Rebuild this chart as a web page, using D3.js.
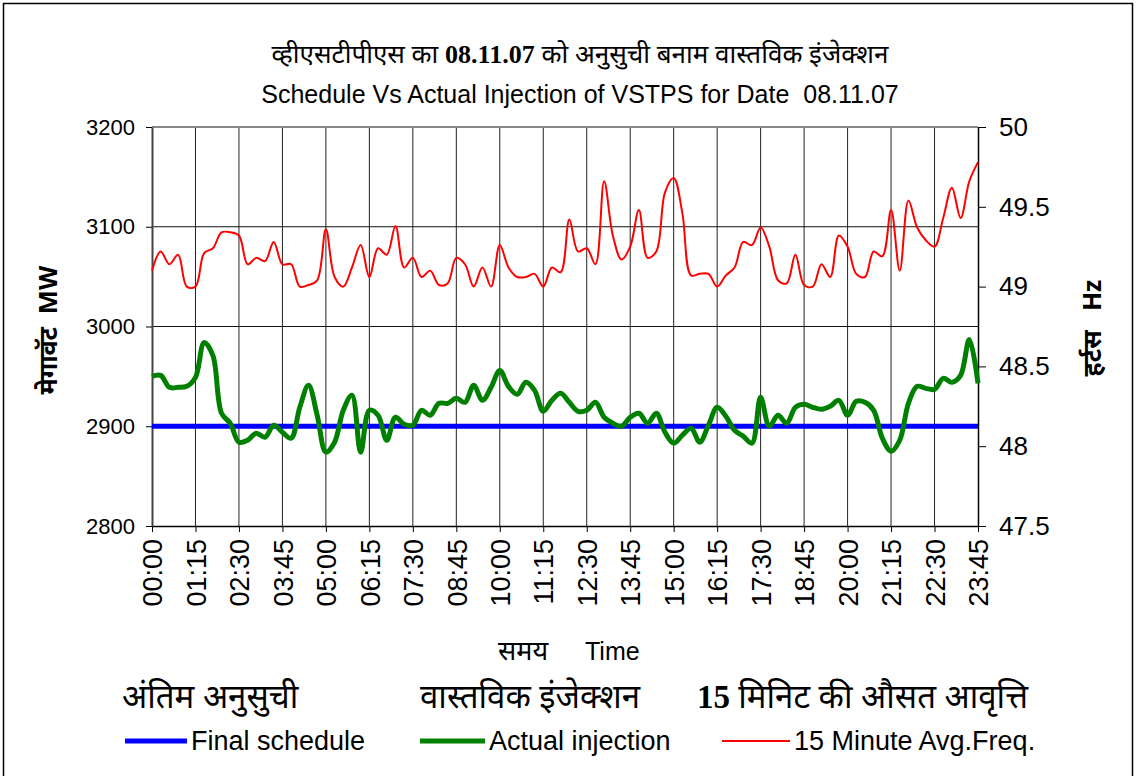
<!DOCTYPE html>
<html>
<head>
<meta charset="utf-8">
<script src="https://cdn.jsdelivr.net/npm/d3@7"></script>
<style>
  body { margin: 0; background: #fff; }
  svg text { font-family: Arial, "Liberation Sans", sans-serif; fill: #000; white-space: pre; }
  .hi { font-family: "Noto Sans Devanagari", "Lohit Devanagari", "Noto Serif Devanagari", "FreeSerif", serif; }
</style>
</head>
<body>
<div id="plot"></div>
<script>
// 15-minute blocks, 00:00 .. 23:45
var times = d3.range(96).map(function(i) {
  var h = Math.floor(i / 4), m = (i % 4) * 15;
  return (h < 10 ? "0" : "") + h + ":" + (m < 10 ? "0" : "") + m;
});

var schedule = times.map(function() { return 2900; });

var actual = [
  2950, 2951, 2939, 2939, 2940, 2949, 2984, 2971, 2913, 2903,
  2884, 2886, 2893, 2889, 2901, 2894, 2888, 2919, 2941, 2911,
  2874, 2884, 2916, 2931, 2874, 2916, 2911, 2886, 2909, 2902,
  2901, 2916, 2911, 2923, 2923, 2928, 2924, 2941, 2926, 2939,
  2956, 2940, 2932, 2944, 2936, 2915, 2926, 2933, 2924, 2915,
  2916, 2924, 2909, 2903, 2900, 2909, 2913, 2903, 2913, 2894,
  2883, 2891, 2898, 2884, 2901, 2919, 2910, 2896, 2890, 2883,
  2929, 2900, 2911, 2903, 2919, 2922, 2919, 2917, 2920, 2926,
  2911, 2925, 2924, 2916, 2888, 2875, 2886, 2923, 2940, 2938,
  2937, 2948, 2944, 2951, 2987, 2943
];

var freq = [
  49.10, 49.22, 49.14, 49.20, 49.00, 49.00, 49.21, 49.24, 49.34, 49.34,
  49.32, 49.14, 49.18, 49.16, 49.28, 49.14, 49.14, 49.00, 49.01, 49.04,
  49.36, 49.06, 49.00, 49.12, 49.26, 49.06, 49.24, 49.20, 49.38, 49.12,
  49.18, 49.06, 49.10, 49.01, 49.02, 49.18, 49.14, 49.00, 49.12, 49.00,
  49.26, 49.12, 49.06, 49.06, 49.08, 49.00, 49.12, 49.09, 49.42, 49.22,
  49.24, 49.14, 49.66, 49.32, 49.17, 49.25, 49.48, 49.18, 49.22, 49.59,
  49.68, 49.46, 49.07, 49.08, 49.08, 49.00, 49.07, 49.12, 49.28, 49.26,
  49.37, 49.25, 49.04, 49.02, 49.20, 49.01, 49.00, 49.14, 49.06, 49.32,
  49.25, 49.08, 49.06, 49.22, 49.19, 49.48, 49.10, 49.54, 49.37, 49.29,
  49.25, 49.43, 49.62, 49.43, 49.66, 49.78
];

var mwTicks = [2800, 2900, 3000, 3100, 3200];
var hzTicks = [47.5, 48, 48.5, 49, 49.5, 50];

(function() {
  var W = 1136, H = 776;
  var pL = 152, pR = 978, pT = 127, pB = 526;

  var svg = d3.select("#plot").append("svg")
    .attr("width", W).attr("height", H);

  // outer frame
  svg.append("rect")
    .attr("x", 3.5).attr("y", 3.5)
    .attr("width", 1129).attr("height", 800)
    .attr("fill", "none").attr("stroke", "#000").attr("stroke-width", 1.5);

  var x = d3.scalePoint().domain(times).range([pL, pR]);
  var y = d3.scaleLinear().domain([2800, 3200]).range([pB, pT]);
  var y2 = d3.scaleLinear().domain([47.5, 50]).range([pB, pT]);

  var every5 = times.filter(function(d, i) { return i % 5 === 0; });

  // gridlines
  svg.append("g").selectAll("line")
    .data(every5.slice(1, -1))
    .enter().append("line")
    .attr("x1", function(d) { return x(d); }).attr("x2", function(d) { return x(d); })
    .attr("y1", pT).attr("y2", pB)
    .attr("stroke", "#222").attr("stroke-width", 1);

  svg.append("g").selectAll("line")
    .data(mwTicks.slice(1, -1))
    .enter().append("line")
    .attr("x1", pL).attr("x2", pR)
    .attr("y1", function(d) { return y(d); }).attr("y2", function(d) { return y(d); })
    .attr("stroke", "#111").attr("stroke-width", 1);

  // plot top border
  svg.append("line")
    .attr("x1", pL).attr("x2", pR).attr("y1", pT).attr("y2", pT)
    .attr("stroke", "#888").attr("stroke-width", 2);

  // axes
  var xAxis = svg.append("g")
    .attr("transform", "translate(0," + pB + ")")
    .call(d3.axisBottom(x).tickValues(every5).tickSize(6).tickSizeOuter(0));
  xAxis.selectAll("text")
    .attr("transform", "rotate(-90)")
    .attr("x", -13).attr("y", 0).attr("dy", "0.36em")
    .style("text-anchor", "end")
    .style("font-size", "27px");

  var yAxis = svg.append("g")
    .attr("transform", "translate(" + pL + ",0)")
    .call(d3.axisLeft(y).tickValues(mwTicks).tickSize(6).tickPadding(11).tickSizeOuter(0)
      .tickFormat(d3.format("d")));
  yAxis.selectAll("text").style("font-size", "22px");

  var y2Axis = svg.append("g")
    .attr("transform", "translate(" + pR + ",0)")
    .call(d3.axisRight(y2).tickValues(hzTicks).tickSize(8).tickPadding(13).tickSizeOuter(0)
      .tickFormat(d3.format("")));
  y2Axis.selectAll("text").style("font-size", "26px");

  [xAxis, yAxis, y2Axis].forEach(function(g) {
    g.select(".domain").attr("stroke", "#000").attr("stroke-width", 1.5);
    g.selectAll(".tick line").attr("stroke", "#000");
  });
  yAxis.select(".domain").attr("stroke", "#444").attr("stroke-width", 2);

  // series
  var curve = d3.curveCatmullRom.alpha(0.5);

  svg.append("path")
    .datum(schedule)
    .attr("fill", "none").attr("stroke", "#0000ff").attr("stroke-width", 5)
    .attr("d", d3.line()
      .x(function(d, i) { return x(times[i]); })
      .y(function(d) { return y(d); }));

  svg.append("path")
    .datum(actual)
    .attr("fill", "none").attr("stroke", "#008000").attr("stroke-width", 5)
    .attr("stroke-linejoin", "round")
    .attr("d", d3.line().curve(curve)
      .x(function(d, i) { return x(times[i]); })
      .y(function(d) { return y(d); }));

  svg.append("path")
    .datum(freq)
    .attr("fill", "none").attr("stroke", "#ff0000").attr("stroke-width", 2)
    .attr("stroke-linejoin", "round")
    .attr("d", d3.line().curve(curve)
      .x(function(d, i) { return x(times[i]); })
      .y(function(d) { return y2(d); }));

  // titles
  var t1 = svg.append("text").attr("class", "hi")
    .attr("x", 580).attr("y", 63).attr("text-anchor", "middle")
    .style("font-size", "26px");
  t1.append("tspan").text("व्हीएसटीपीएस का ");
  t1.append("tspan").style("font-family", "'Liberation Serif', 'DejaVu Serif', serif")
    .style("font-weight", "bold").text("08.11.07");
  t1.append("tspan").text(" को अनुसुची बनाम वास्तविक इंजेक्शन");

  svg.append("text")
    .attr("x", 580).attr("y", 103).attr("text-anchor", "middle")
    .style("font-size", "25px")
    .text("Schedule Vs Actual Injection of VSTPS for Date  08.11.07");

  // axis titles
  svg.append("text").attr("class", "hi")
    .attr("transform", "translate(57,330) rotate(-90)")
    .attr("text-anchor", "middle")
    .style("font-size", "25px").style("font-weight", "bold")
    .text("मेगावॅट  MW");

  svg.append("text").attr("class", "hi")
    .attr("transform", "translate(1101,328) rotate(-90)")
    .attr("text-anchor", "middle")
    .style("font-size", "25px").style("font-weight", "bold")
    .text("हर्टस   Hz");

  svg.append("text").attr("class", "hi")
    .attr("x", 498).attr("y", 660)
    .style("font-size", "27px")
    .text("समय");
  svg.append("text")
    .attr("x", 585).attr("y", 660)
    .style("font-size", "25px")
    .text("Time");

  // legend
  var legendItems = [
    { hi: "अंतिम अनुसुची", en: "Final schedule", color: "#0000ff", w: 5, x0: 125, x1: 187, hx: 122 },
    { hi: "वास्तविक इंजेक्शन", en: "Actual injection", color: "#008000", w: 5, x0: 420, x1: 485, hx: 420 },
    { hi: "मिनिट की औसत आवृत्ति", en: "15 Minute Avg.Freq.", color: "#ff0000", w: 2, x0: 722, x1: 790, hx: 697 }
  ];

  var lg = svg.selectAll(".legend")
    .data(legendItems)
    .enter().append("g")
    .attr("class", "legend");

  lg.append("line")
    .attr("x1", function(d) { return d.x0; }).attr("x2", function(d) { return d.x1; })
    .attr("y1", 741).attr("y2", 741)
    .attr("stroke", function(d) { return d.color; })
    .attr("stroke-width", function(d) { return d.w; });

  lg.append("text")
    .attr("x", function(d) { return d.x1 + 4; }).attr("y", 750)
    .style("font-size", "27px")
    .text(function(d) { return d.en; });

  lg.append("text")
    .attr("class", "hi")
    .attr("x", function(d) { return d.hx; }).attr("y", 708)
    .style("font-size", "33px")
    .each(function(d, i) {
      var t = d3.select(this);
      if (i === 2) {
        t.append("tspan").style("font-family", "'Liberation Serif', 'DejaVu Serif', serif")
          .style("font-weight", "bold").text("15 ");
      }
      t.append("tspan").text(d.hi);
    });
})();
</script>
</body>
</html>
